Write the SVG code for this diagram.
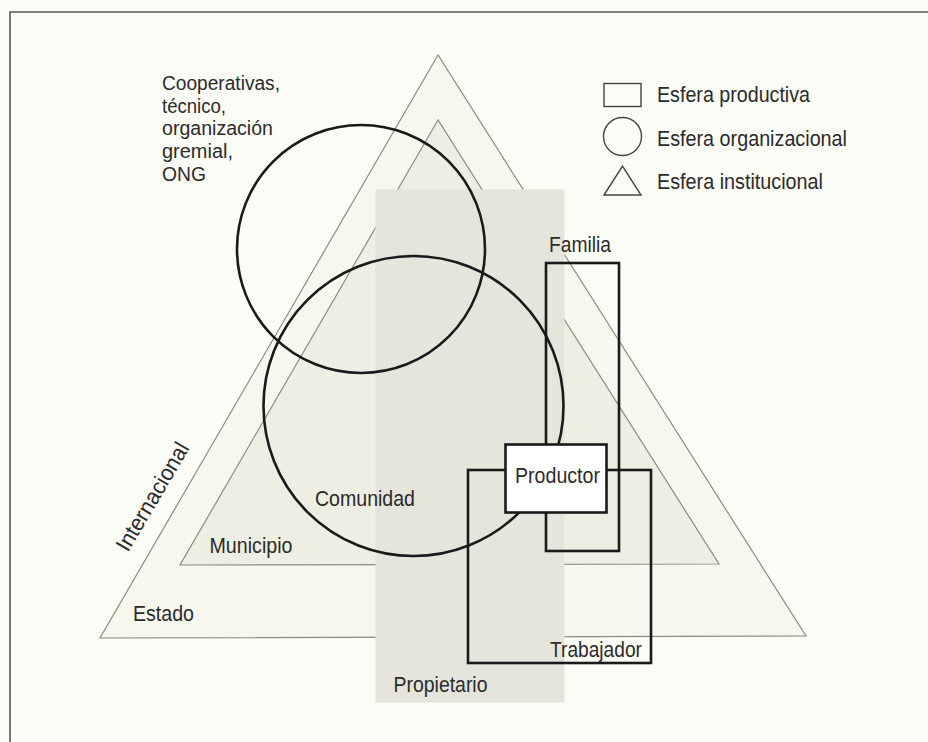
<svg xmlns="http://www.w3.org/2000/svg" width="928" height="742" viewBox="0 0 928 742">
<style>
text{font-family:"Liberation Sans Narrow","Liberation Sans",Arial,sans-serif;font-size:22.5px;fill:#2b2b2b;}
text.stack{font-size:20px;}
.tri{stroke:#8c8c84;stroke-width:1.2;}
.bold{fill:none;stroke:#1a1a1a;stroke-width:2.6;}
</style>
<rect x="0" y="0" width="928" height="742" fill="#fcfcf7"/>
<path d="M10 742 V12 H928" fill="none" stroke="#555" stroke-width="1.6"/>
<g id="estado"><polygon class="tri" points="438,55 100,638 806,636" fill="#f8f7ee"/></g>
<g id="municipio"><polygon class="tri" points="438,120 180,565 719,564" fill="#efeee2"/></g>
<g id="propietario"><rect x="375.5" y="189.5" width="189" height="513" fill="#e6e5db"/></g>
<g id="cooperativas"><circle class="bold" cx="361" cy="249" r="124"/></g>
<g id="comunidad"><circle class="bold" cx="413.5" cy="406" r="150"/></g>
<g id="familia"><rect class="bold" x="546" y="263" width="73" height="288"/></g>
<g id="trabajador"><rect class="bold" x="468" y="470" width="183" height="193"/></g>
<g id="productor"><rect x="505.5" y="444.5" width="101" height="68" fill="#fff" stroke="#1a1a1a" stroke-width="2.6"/></g>
<g id="connectors"/>
<g id="labels">
<text class="stack" x="162" y="90" textLength="118" lengthAdjust="spacingAndGlyphs">Cooperativas,</text>
<text class="stack" x="162" y="112.5" textLength="64" lengthAdjust="spacingAndGlyphs">técnico,</text>
<text class="stack" x="162" y="135" textLength="111" lengthAdjust="spacingAndGlyphs">organización</text>
<text class="stack" x="162" y="157.5" textLength="71" lengthAdjust="spacingAndGlyphs">gremial,</text>
<text class="stack" x="162" y="181" textLength="44" lengthAdjust="spacingAndGlyphs">ONG</text>
<text x="549" y="252" textLength="62" lengthAdjust="spacingAndGlyphs">Familia</text>
<text x="515" y="483" textLength="85" lengthAdjust="spacingAndGlyphs">Productor</text>
<text x="315" y="506" textLength="100" lengthAdjust="spacingAndGlyphs">Comunidad</text>
<text x="209.5" y="552.5" textLength="83" lengthAdjust="spacingAndGlyphs">Municipio</text>
<text x="133" y="621" textLength="61" lengthAdjust="spacingAndGlyphs">Estado</text>
<text x="550" y="656.5" textLength="92" lengthAdjust="spacingAndGlyphs">Trabajador</text>
<text x="393.5" y="691.5" textLength="94" lengthAdjust="spacingAndGlyphs">Propietario</text>
<text transform="translate(128,553) rotate(-59.5)" textLength="122" lengthAdjust="spacingAndGlyphs">Internacional</text>
</g>
<g id="legend">
<rect x="604" y="83.5" width="37" height="23" fill="none" stroke="#444" stroke-width="1.4"/>
<circle cx="622.5" cy="136.5" r="19" fill="none" stroke="#444" stroke-width="1.4"/>
<polygon points="604,195 622.5,166 641,195" fill="none" stroke="#444" stroke-width="1.4"/>
<text x="657" y="101.5" textLength="153" lengthAdjust="spacingAndGlyphs">Esfera productiva</text>
<text x="657" y="145.5" textLength="190" lengthAdjust="spacingAndGlyphs">Esfera organizacional</text>
<text x="657" y="189" textLength="166" lengthAdjust="spacingAndGlyphs">Esfera institucional</text>
</g>
</svg>
